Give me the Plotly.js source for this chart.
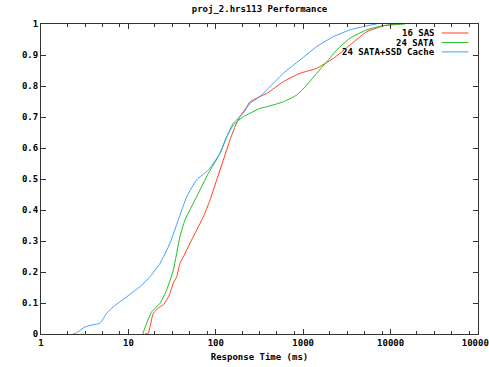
<!DOCTYPE html>
<html>
<head>
<meta charset="utf-8">
<script src="https://cdn.plot.ly/plotly-3.0.1.min.js"></script>
<style>html,body{margin:0;padding:0;background:#fff;}#chart{width:489px;height:367px;}</style>
</head>
<body>
<div id="chart"></div>
<script>
// Response time (ms) and cumulative fraction for each configuration
const sasX = [15.5, 16.9, 17.7, 19.3, 23.0, 25.1, 27.4, 29.9, 32.6, 35.7, 38.9, 42.5, 55.3, 71.9, 85.9, 102.4, 121.9, 145.3, 166, 189, 226, 246, 320, 382, 592, 919, 1427, 2210, 3430, 5330, 8250, 9840, 12800];
const sasY = [0, 0.003, 0.024, 0.067, 0.088, 0.094, 0.11, 0.131, 0.164, 0.185, 0.228, 0.249, 0.314, 0.378, 0.432, 0.497, 0.561, 0.626, 0.669, 0.701, 0.733, 0.749, 0.766, 0.776, 0.814, 0.841, 0.857, 0.889, 0.932, 0.975, 0.994, 0.997, 1.0];

const sataX = [14.6, 16.2, 18.5, 23.0, 27.4, 32.6, 38.9, 44.4, 60.4, 82.1, 111.7, 133.3, 158.6, 206.5, 246, 320, 382, 592, 843, 1097, 1427, 1858, 2416, 3430, 5330, 8250, 9840, 14600];
const sataY = [0, 0.035, 0.072, 0.099, 0.142, 0.206, 0.314, 0.368, 0.443, 0.518, 0.583, 0.636, 0.674, 0.701, 0.712, 0.728, 0.733, 0.749, 0.771, 0.803, 0.841, 0.878, 0.916, 0.954, 0.981, 0.995, 0.997, 1.0];

const ssdX = [2.32, 2.56, 3.19, 3.97, 4.73, 5.65, 6.72, 9.56, 13.6, 17.7, 23.0, 29.9, 37.2, 46.5, 60.4, 82.1, 111.7, 133.3, 158.6, 206.5, 246, 320, 382, 592, 919, 1427, 2210, 3430, 5330, 6930];
const ssdY = [0, 0.004, 0.023, 0.03, 0.035, 0.067, 0.088, 0.12, 0.153, 0.185, 0.228, 0.293, 0.368, 0.443, 0.497, 0.529, 0.583, 0.636, 0.68, 0.712, 0.744, 0.766, 0.787, 0.841, 0.884, 0.927, 0.959, 0.981, 0.994, 1.0];

const seriesNames = ["16 SAS", "24 SATA", "24 SATA+SSD Cache"];
const seriesColors = ["#ff4020", "#20c020", "#40a0ff"];

const xTickVals = [1, 10, 100, 1000, 10000, 100000];
const xTickText = ["1", "10", "100", "1000", "10000", "100000"];
const yTickVals = [0, 0.1, 0.2, 0.3, 0.4, 0.5, 0.6, 0.7, 0.8, 0.9, 1];
const yTickText = ["0", "0.1", "0.2", "0.3", "0.4", "0.5", "0.6", "0.7", "0.8", "0.9", "1"];
const minorMult = [2, 3.2, 5, 8];

const minorVals = [];
for (let d = 1; d < 100000; d *= 10) minorMult.forEach(m => minorVals.push(d * m));

const font = {family: "DejaVu Sans Mono", size: 9, color: "#000"};
const xs = [sasX, sataX, ssdX], ys = [sasY, sataY, ssdY];
const traces = xs.map((x, i) => ({
  x: x, y: ys[i], type: "scatter", mode: "lines", name: seriesNames[i],
  line: {color: seriesColors[i], width: 1, shape: "spline", smoothing: 0.5}, showlegend: false
}));

// gnuplot-style legend: text on the left, line sample on the right
const legY = [0.971, 0.940, 0.910];
const annotations = seriesNames.map((n, i) => ({
  xref: "paper", yref: "paper", x: 0.906, y: legY[i], xanchor: "right", yanchor: "middle",
  text: "<b>" + n + "</b>", showarrow: false, font: font
}));
const shapes = seriesNames.map((n, i) => ({
  type: "line", xref: "paper", yref: "paper", x0: 0.917, x1: 0.978, y0: legY[i], y1: legY[i],
  line: {color: seriesColors[i], width: 1}
}));

const axisCommon = {
  showgrid: false, zeroline: false, showline: true, linecolor: "#333", linewidth: 1,
  mirror: "allticks", ticks: "inside", tickcolor: "#333", ticklen: 5, tickwidth: 1,
  tickfont: font, ticklabeloverflow: "allow"
};

const layout = {
  width: 489, height: 367,
  margin: {l: 41, r: 11, t: 24, b: 33},
  paper_bgcolor: "#fff", plot_bgcolor: "#fff",
  title: {text: "<b>proj_2.hrs113 Performance</b>", font: font, x: 0.5, xref: "paper", xanchor: "center", y: 0.975, yanchor: "middle"},
  xaxis: Object.assign({}, axisCommon, {
    type: "log", range: [0, 5], tickmode: "array", tickvals: xTickVals,
    ticktext: xTickText.map(t => "<b>" + t + "</b>"),
    minor: {tickmode: "array", tickvals: minorVals, ticks: "inside", ticklen: 3, tickcolor: "#333", showgrid: false},
    title: {text: "<b>Response Time (ms)</b>", font: font, standoff: 6}
  }),
  yaxis: Object.assign({}, axisCommon, {
    range: [0, 1], tickmode: "array", tickvals: yTickVals,
    ticktext: yTickText.map(t => "<b>" + t + "</b>")
  }),
  annotations: annotations,
  shapes: shapes,
  showlegend: false
};

Plotly.newPlot("chart", traces, layout, {displayModeBar: false, staticPlot: true});
</script>
</body>
</html>
